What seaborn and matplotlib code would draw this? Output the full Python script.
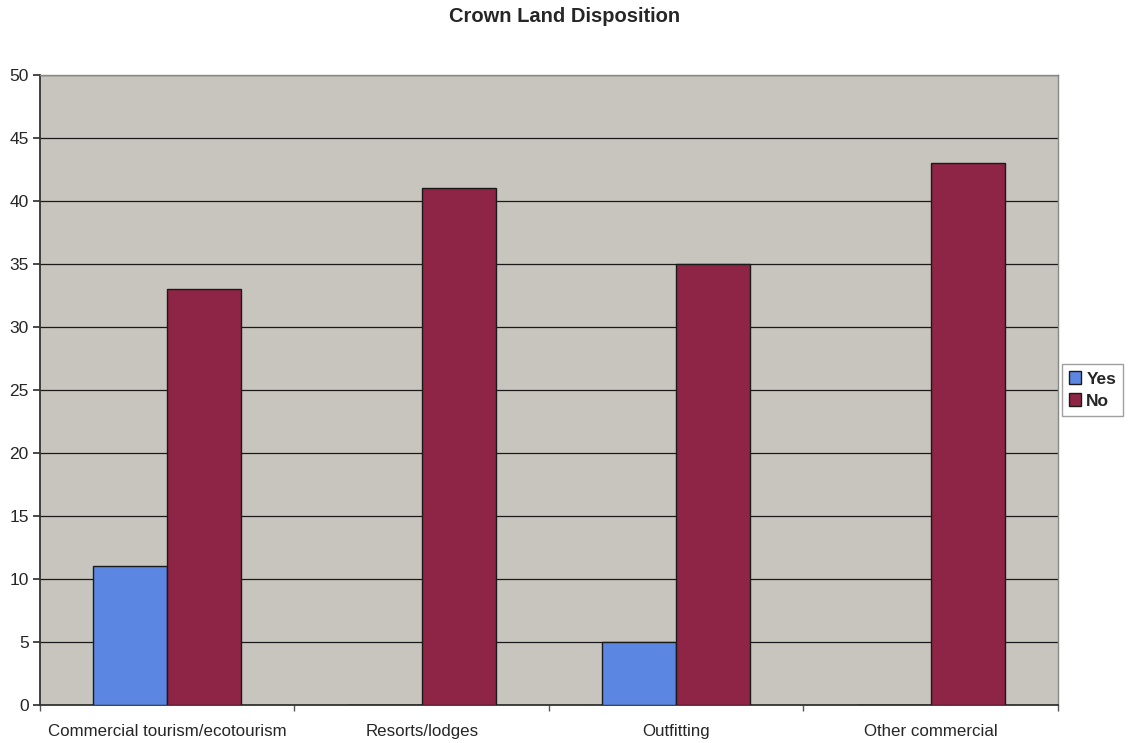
import numpy as np
import pandas as pd
import matplotlib
matplotlib.use('Agg')
import matplotlib.pyplot as plt
import seaborn as sns

categories = ['Commercial tourism/ecotourism', 'Resorts/lodges', 'Outfitting', 'Other commercial']
yes_vals = [11, 0, 5, 0]
no_vals = [33, 41, 35, 43]
series = ['Yes', 'No']
y_ticks = list(range(0, 51, 5))

df = pd.DataFrame({
    'category': categories * 2,
    'answer': ['Yes'] * len(categories) + ['No'] * len(categories),
    'count': yes_vals + no_vals,
})

sns.set_theme(style='white')
plt.rcParams['font.family'] = ['Liberation Sans', 'DejaVu Sans']

blue = '#5B87E2'
maroon = '#8E2546'
bg = '#C8C5BE'

fig = plt.figure(figsize=(11.32, 7.43), dpi=100)
ax = fig.add_axes([0.0353, 0.0511, 0.8993, 0.848])
ax.set_facecolor(bg)

sns.barplot(data=df, x='category', y='count', hue='answer', hue_order=series, order=categories,
            palette=[blue, maroon], width=0.58, edgecolor='#1a1a1a', linewidth=1.0,
            saturation=1, ax=ax, legend=True, zorder=3)

ax.set_ylim(0, 50)
ax.set_xlim(-0.5, len(categories) - 0.5)
ax.set_yticks(y_ticks)
ax.set_xticks(np.arange(-0.5, len(categories)), minor=True)
ax.yaxis.grid(True, color='#1a1a1a', lw=0.9, zorder=1)
ax.set_axisbelow(True)
ax.set_xlabel('')
ax.set_ylabel('')
ax.tick_params(axis='y', labelsize=12.5, length=5, left=True, color='#333333', pad=3)
ax.tick_params(axis='x', which='major', labelsize=12.2, length=0, pad=14)
ax.tick_params(axis='x', which='minor', length=4, bottom=True, color='#555555')
for sp in ['left', 'bottom']:
    ax.spines[sp].set_color('#333333')
    ax.spines[sp].set_linewidth(1.3)
for sp in ['top', 'right']:
    ax.spines[sp].set_color('#888888')
    ax.spines[sp].set_linewidth(1.0)

leg = ax.legend(loc='center left', bbox_to_anchor=(1.004, 0.5), frameon=True, fancybox=False,
                fontsize=12.5, handlelength=0.7, handleheight=0.7, handletextpad=0.3,
                borderpad=0.4, labelspacing=0.4, borderaxespad=0)
leg.get_frame().set_edgecolor('#888888')
leg.get_frame().set_linewidth(1.0)
for t in leg.get_texts():
    t.set_fontweight('bold')

fig.text(0.499, 0.99, 'Crown Land Disposition', ha='center', va='top', fontsize=14.5, fontweight='bold')

fig.savefig('out.png', dpi=100)
